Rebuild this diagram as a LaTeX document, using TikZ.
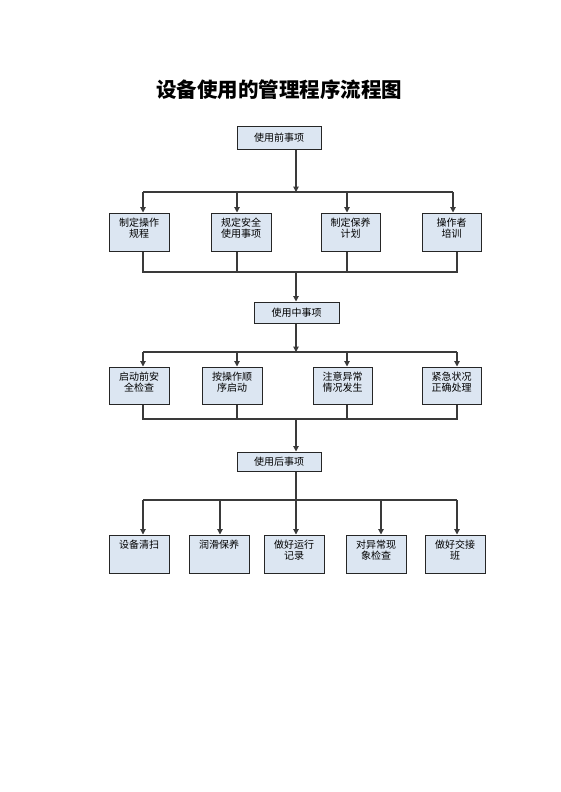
\documentclass[tikz,border=0pt]{standalone}
\usepackage{fontspec}
\newfontfamily\cjk{Noto Sans CJK SC}
\usetikzlibrary{arrows.meta}
\definecolor{boxfill}{HTML}{DCE6F2}
\definecolor{lineclr}{HTML}{3A3A3A}
\tikzset{
  box/.style={draw=black!85, line width=1pt, fill=boxfill, inner sep=0pt},
  lab/.style={anchor=north, inner sep=0pt, align=center, font=\cjk\fontsize{10}{11.5}\selectfont},
  conn/.style={draw=lineclr, line width=1.1pt},
  arr/.style={conn, -{Triangle[length=5.5pt,width=5.5pt]}}
}
\newcommand{\mybox}[6]{% name, x1, y1, x2, y2, text
  \node[box, minimum width={(#4-#2)*1pt}, minimum height={(#5-#3)*1pt}] (#1) at ({(#2+#4)/2},{(#3+#5)/2}) {};
  \node[lab] (#1t) at ([yshift=-5pt]#1.north) {#6};
}
\newcommand{\mytop}[6]{% name, x1, y1, x2, y2, text
  \node[box, minimum width={(#4-#2)*1pt}, minimum height={(#5-#3)*1pt}, font=\cjk\fontsize{10}{11.5}\selectfont] (#1) at ({(#2+#4)/2},{(#3+#5)/2}) {#6};
}
\begin{document}
\begin{tikzpicture}[x=1pt,y=-1pt]
\useasboundingbox (0,0) rectangle (560,792);
\node[font=\cjk\bfseries\fontsize{20.5}{24}\selectfont] (title) at (279,90) {设备使用的管理程序流程图};

% top boxes
\mytop{t1}{237}{126}{321}{149}{使用前事项}
\mytop{t2}{254}{302}{339}{323}{使用中事项}
\mytop{t3}{237}{452}{321}{471}{使用后事项}

% row 1
\mybox{a1}{109}{213}{169}{251}{制定操作\\规程}
\mybox{a2}{211}{213}{271}{251}{规定安全\\使用事项}
\mybox{a3}{321}{213}{380}{251}{制定保养\\计划}
\mybox{a4}{422}{213}{481}{251}{操作者\\培训}

% row 2
\mybox{b1}{109}{367}{169}{404}{启动前安\\全检查}
\mybox{b2}{202}{367}{262}{404}{按操作顺\\序启动}
\mybox{b3}{313}{367}{372}{404}{注意异常\\情况发生}
\mybox{b4}{422}{367}{481}{404}{紧急状况\\正确处理}

% row 3
\mybox{c1}{109}{535}{169}{573}{设备清扫}
\mybox{c2}{189}{535}{249}{573}{润滑保养}
\mybox{c3}{264}{535}{324}{573}{做好运行\\记录}
\mybox{c4}{346}{535}{406}{573}{对异常现\\象检查}
\mybox{c5}{425}{535}{485}{573}{做好交接\\班}

% junction coordinates
\coordinate (j1) at (296,192);
\coordinate (j2) at (296,272);
\coordinate (j3) at (296,352);
\coordinate (j4) at (296,419);
\coordinate (j5) at (296,500);

% stage 1
\draw[arr] (t1.south -| j1) -- (j1);
\draw[conn] (143,192) -- (453,192);
\draw[arr] (143,192) -- (a1.north -| 143,0);
\draw[arr] (237,192) -- (a2.north -| 237,0);
\draw[arr] (347,192) -- (a3.north -| 347,0);
\draw[arr] (453,192) -- (a4.north -| 453,0);
\draw[conn] (a1.south -| 143,0) |- (j2);
\draw[conn] (a2.south -| 237,0) -- (237,272);
\draw[conn] (a3.south -| 347,0) -- (347,272);
\draw[conn] (a4.south -| 457,0) |- (j2);
\draw[arr] (j2) -- (t2.north -| j2);

% stage 2
\draw[arr] (t2.south -| j3) -- (j3);
\draw[conn] (143,352) -- (457,352);
\draw[arr] (143,352) -- (b1.north -| 143,0);
\draw[arr] (237,352) -- (b2.north -| 237,0);
\draw[arr] (347,352) -- (b3.north -| 347,0);
\draw[arr] (457,352) -- (b4.north -| 457,0);
\draw[conn] (b1.south -| 143,0) |- (j4);
\draw[conn] (b2.south -| 237,0) -- (237,419);
\draw[conn] (b3.south -| 347,0) -- (347,419);
\draw[conn] (b4.south -| 457,0) |- (j4);
\draw[arr] (j4) -- (t3.north -| j4);

% stage 3
\draw[arr] (t3.south -| j5) -- (c3.north -| j5);
\draw[conn] (143,500) -- (457,500);
\draw[arr] (143,500) -- (c1.north -| 143,0);
\draw[arr] (220,500) -- (c2.north -| 220,0);
\draw[arr] (381,500) -- (c4.north -| 381,0);
\draw[arr] (457,500) -- (c5.north -| 457,0);
\end{tikzpicture}
\end{document}
